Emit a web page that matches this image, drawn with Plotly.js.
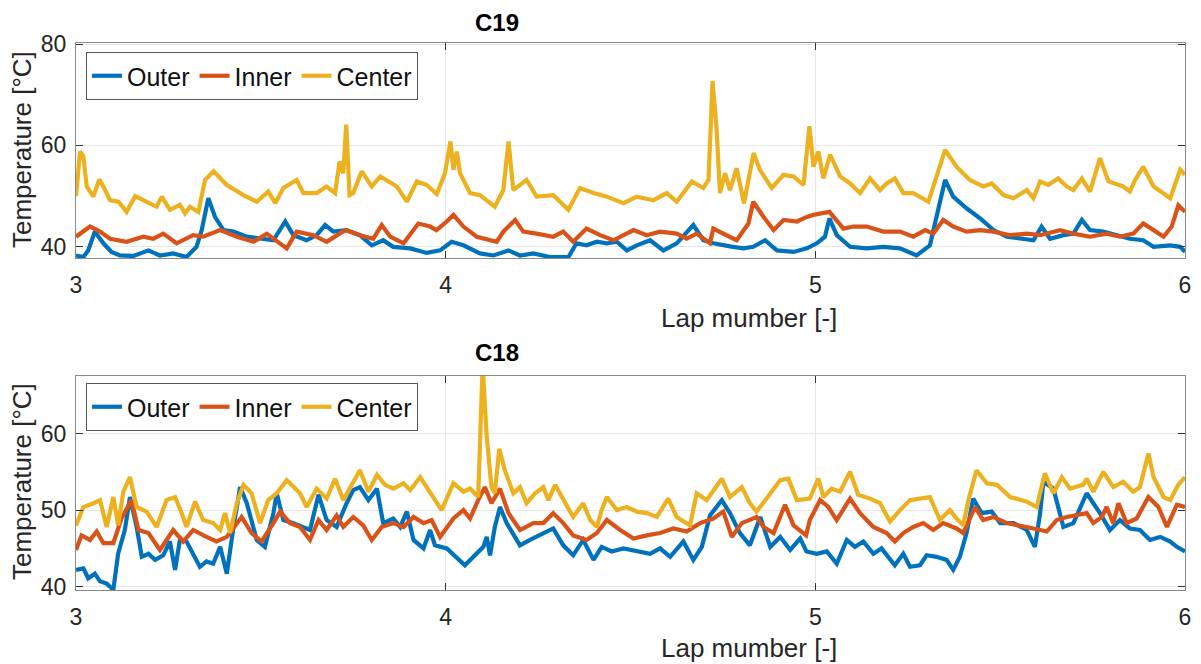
<!DOCTYPE html>
<html>
<head>
<meta charset="utf-8">
<script src="https://cdn.plot.ly/plotly-3.0.1.min.js"></script>
<style>html,body{margin:0;padding:0;background:#fff;}#chart{width:1201px;height:664px;}</style>
</head>
<body>
<div id="chart"></div>
<script>
// ---------- C19 (top) ----------
const c19OuterX = [3.000,3.020,3.033,3.051,3.074,3.096,3.119,3.155,3.196,3.227,3.263,3.299,3.326,3.340,3.358,3.376,3.399,3.426,3.462,3.498,3.534,3.566,3.588,3.624,3.651,3.674,3.696,3.732,3.768,3.800,3.831,3.858,3.904,3.949,3.985,4.016,4.048,4.093,4.129,4.170,4.201,4.237,4.282,4.332,4.354,4.381,4.409,4.436,4.463,4.490,4.517,4.553,4.589,4.625,4.670,4.697,4.724,4.769,4.805,4.832,4.864,4.896,4.941,4.977,5.004,5.026,5.038,5.058,5.094,5.139,5.184,5.229,5.274,5.310,5.328,5.351,5.373,5.409,5.446,5.482,5.518,5.554,5.590,5.612,5.635,5.671,5.698,5.721,5.743,5.779,5.815,5.851,5.887,5.915,5.960,5.987,6.000];
const c19OuterY = [38.3,38.0,39.3,43.0,40.7,39.0,38.3,38.2,39.3,38.3,38.7,38.0,40.0,43.3,49.6,45.9,43.3,43.0,42.0,41.6,41.3,45.0,42.3,41.3,42.3,44.3,43.0,43.3,42.3,40.3,41.3,40.0,39.7,38.8,39.3,41.0,40.3,38.7,38.3,39.3,38.3,38.7,38.0,38.0,40.7,40.3,41.0,40.7,41.0,39.3,40.3,41.3,39.3,40.7,44.3,41.3,40.7,40.1,39.7,40.0,41.3,39.3,39.0,39.7,40.7,42.0,45.6,42.3,40.0,39.7,40.0,39.7,38.3,40.3,45.9,53.2,49.9,47.6,45.6,43.3,42.0,41.6,41.3,44.0,41.6,42.3,42.6,45.3,43.3,43.0,42.3,41.6,41.3,40.0,40.3,40.0,39.0];

const c19InnerX = [3.000,3.038,3.065,3.092,3.137,3.182,3.209,3.236,3.272,3.317,3.344,3.390,3.435,3.480,3.516,3.570,3.597,3.642,3.678,3.728,3.768,3.804,3.827,3.850,3.886,3.926,3.958,3.975,4.003,4.021,4.048,4.084,4.138,4.156,4.188,4.210,4.246,4.291,4.318,4.345,4.381,4.418,4.454,4.508,4.544,4.580,4.625,4.652,4.679,4.715,4.724,4.751,4.787,4.819,4.832,4.860,4.887,4.914,4.950,4.977,4.994,5.038,5.076,5.103,5.139,5.184,5.229,5.265,5.297,5.319,5.346,5.373,5.409,5.446,5.482,5.527,5.572,5.608,5.662,5.698,5.743,5.788,5.824,5.860,5.887,5.915,5.942,5.964,5.982,6.000];
const c19InnerY = [42.0,44.0,43.0,41.6,41.0,42.0,41.6,42.6,40.7,42.3,42.0,43.3,42.0,41.0,42.6,39.7,43.0,42.3,41.0,43.3,42.3,41.6,44.3,42.0,40.7,44.6,44.0,43.3,45.0,46.3,44.0,42.0,41.0,43.0,45.3,43.0,42.6,42.0,43.0,41.0,43.6,42.3,41.3,43.3,42.3,43.0,42.6,41.6,42.6,40.7,43.6,42.6,41.3,44.6,48.9,45.9,43.3,45.3,45.0,45.9,46.3,46.9,43.6,44.0,44.0,43.0,43.0,42.0,43.3,42.6,45.3,44.0,43.0,43.3,43.0,42.3,42.6,42.3,43.3,42.6,42.0,42.6,42.0,42.6,44.6,43.3,42.0,44.0,48.2,46.9];

const c19CenterX = [3.000,3.011,3.020,3.029,3.047,3.063,3.074,3.092,3.115,3.137,3.160,3.191,3.218,3.232,3.254,3.281,3.295,3.308,3.331,3.349,3.372,3.408,3.453,3.489,3.520,3.539,3.561,3.597,3.615,3.651,3.678,3.701,3.713,3.723,3.731,3.740,3.750,3.773,3.787,3.800,3.823,3.845,3.868,3.895,3.922,3.949,3.976,3.998,4.013,4.021,4.030,4.039,4.052,4.066,4.093,4.133,4.156,4.170,4.183,4.219,4.246,4.291,4.332,4.363,4.400,4.436,4.481,4.517,4.562,4.598,4.625,4.666,4.697,4.711,4.722,4.733,4.742,4.756,4.769,4.787,4.807,4.833,4.850,4.882,4.914,4.941,4.968,4.984,4.995,5.008,5.022,5.040,5.067,5.094,5.121,5.148,5.175,5.193,5.215,5.238,5.265,5.306,5.328,5.351,5.382,5.418,5.454,5.477,5.509,5.536,5.572,5.590,5.608,5.630,5.657,5.680,5.698,5.721,5.743,5.770,5.793,5.833,5.851,5.865,5.887,5.915,5.960,5.987,6.000];
const c19CenterY = [50.0,58.8,57.8,51.9,49.9,53.3,51.9,49.2,48.9,46.9,50.0,48.9,47.9,49.9,47.3,48.3,46.6,47.9,46.9,53.2,54.9,52.2,50.2,48.9,50.9,48.6,51.6,53.2,50.6,50.6,51.9,50.6,56.8,54.5,64.1,50.2,50.6,54.9,53.5,51.9,53.9,52.9,51.9,48.9,52.9,52.2,50.4,54.5,60.8,55.2,58.8,54.5,52.5,50.6,50.2,47.9,51.2,60.8,51.2,53.2,49.9,50.2,47.3,51.6,50.6,49.9,48.6,49.9,49.2,50.6,48.9,52.9,51.6,53.2,72.7,63.1,50.6,54.5,51.2,55.5,48.6,58.5,55.2,51.6,54.2,53.9,52.2,63.8,55.8,58.8,53.5,58.2,53.9,52.5,50.6,53.5,51.2,52.5,53.5,50.6,50.6,48.9,53.9,59.1,55.8,53.2,51.9,52.5,50.2,49.6,51.2,49.6,52.9,52.2,53.5,51.9,51.2,53.5,50.9,57.5,52.9,51.9,50.9,53.2,55.8,51.9,49.6,55.2,54.2];

// ---------- C18 (bottom) ----------
const c18OuterX = [3.000,3.020,3.033,3.051,3.065,3.083,3.101,3.114,3.132,3.146,3.164,3.178,3.196,3.214,3.236,3.254,3.268,3.281,3.299,3.317,3.335,3.353,3.371,3.390,3.408,3.426,3.444,3.462,3.489,3.511,3.534,3.543,3.561,3.588,3.615,3.633,3.656,3.678,3.705,3.732,3.750,3.768,3.791,3.814,3.831,3.858,3.877,3.895,3.913,3.940,3.958,3.971,4.003,4.030,4.052,4.075,4.102,4.111,4.120,4.133,4.147,4.165,4.188,4.201,4.228,4.255,4.291,4.318,4.345,4.372,4.400,4.422,4.449,4.481,4.517,4.553,4.580,4.607,4.643,4.670,4.693,4.715,4.747,4.769,4.796,4.823,4.851,4.878,4.905,4.932,4.959,4.976,5.004,5.031,5.058,5.085,5.107,5.130,5.157,5.179,5.215,5.238,5.256,5.283,5.301,5.328,5.355,5.373,5.391,5.409,5.427,5.450,5.477,5.500,5.536,5.572,5.594,5.608,5.617,5.644,5.671,5.698,5.734,5.770,5.797,5.824,5.851,5.878,5.905,5.933,5.960,5.978,6.000];
const c18OuterY = [42.2,42.4,41.1,41.7,40.7,40.4,39.6,44.3,47.4,51.7,47.8,43.9,44.3,43.5,44.1,45.9,42.2,46.1,45.9,44.3,42.6,43.3,43.0,45.2,41.7,47.8,53.0,50.9,46.1,45.2,49.6,52.2,48.7,48.3,47.8,47.4,52.0,48.7,47.8,50.9,52.6,53.0,51.3,52.8,48.3,48.9,47.8,49.8,46.1,45.0,47.4,45.4,45.0,43.7,42.8,43.9,45.2,46.5,44.1,47.8,50.4,48.3,46.5,45.4,46.1,46.7,47.6,45.4,44.1,46.1,43.5,45.2,44.6,45.0,44.6,44.3,45.0,43.9,45.9,43.5,45.2,49.3,51.3,49.6,47.0,45.4,49.1,45.2,46.5,44.8,46.3,44.6,44.3,44.6,43.0,46.1,45.2,45.9,44.3,45.0,42.8,44.3,42.6,42.8,44.1,43.9,43.5,42.2,43.9,47.0,51.5,49.6,49.8,48.3,48.3,47.4,45.2,49.6,53.7,52.8,47.8,48.3,52.2,49.6,47.4,48.7,47.6,47.4,46.1,46.5,45.9,45.2,44.6];

const c18InnerX = [3.000,3.015,3.038,3.056,3.074,3.101,3.123,3.141,3.150,3.169,3.196,3.227,3.263,3.290,3.317,3.353,3.380,3.408,3.426,3.448,3.475,3.502,3.534,3.552,3.579,3.606,3.633,3.656,3.678,3.705,3.723,3.750,3.777,3.800,3.827,3.859,3.886,3.913,3.940,3.962,3.985,4.021,4.048,4.066,4.088,4.106,4.124,4.147,4.170,4.201,4.237,4.264,4.291,4.318,4.345,4.381,4.409,4.436,4.472,4.508,4.544,4.580,4.616,4.652,4.688,4.724,4.751,4.774,4.801,4.823,4.841,4.860,4.887,4.918,4.941,4.975,4.985,5.013,5.035,5.058,5.094,5.121,5.157,5.193,5.215,5.238,5.265,5.292,5.319,5.346,5.382,5.400,5.432,5.454,5.482,5.518,5.554,5.590,5.626,5.653,5.680,5.707,5.734,5.752,5.775,5.788,5.806,5.820,5.842,5.869,5.901,5.928,5.951,5.978,6.000];
const c18InnerY = [44.8,46.7,46.1,47.2,45.7,45.7,48.9,50.4,51.3,47.4,47.0,44.8,47.4,45.9,47.4,46.5,45.9,46.5,47.6,49.1,47.0,45.9,48.3,49.8,48.3,47.8,46.1,48.7,47.4,49.3,47.8,49.1,48.0,46.1,47.8,48.3,47.8,49.1,48.3,48.7,46.5,48.9,50.0,48.9,51.3,53.0,50.9,52.8,49.6,47.4,48.3,48.3,49.6,48.3,46.7,46.1,47.0,48.7,47.4,46.3,46.7,47.0,47.6,47.2,48.3,48.9,49.8,46.5,48.3,48.7,49.1,47.8,47.0,50.7,48.0,46.7,48.7,51.3,50.4,48.7,51.5,49.6,47.8,47.0,45.9,47.0,47.8,48.3,47.4,48.3,47.6,47.0,50.4,48.7,49.1,48.3,48.0,47.6,47.2,48.7,49.1,49.3,49.6,48.3,49.1,50.4,48.3,50.9,48.3,48.9,51.7,50.4,47.8,50.7,50.4];

const c18CenterX = [3.000,3.020,3.047,3.065,3.083,3.101,3.114,3.128,3.146,3.164,3.191,3.218,3.245,3.268,3.286,3.299,3.322,3.344,3.371,3.390,3.403,3.417,3.435,3.453,3.475,3.498,3.520,3.543,3.570,3.606,3.624,3.651,3.678,3.701,3.723,3.741,3.768,3.791,3.814,3.836,3.859,3.886,3.904,3.931,3.958,3.989,4.021,4.048,4.066,4.088,4.100,4.111,4.124,4.133,4.145,4.160,4.183,4.201,4.219,4.242,4.264,4.278,4.296,4.318,4.345,4.372,4.391,4.409,4.422,4.436,4.463,4.490,4.517,4.544,4.571,4.602,4.625,4.661,4.679,4.706,4.729,4.747,4.769,4.801,4.823,4.841,4.868,4.905,4.927,4.950,4.985,5.008,5.022,5.044,5.067,5.094,5.116,5.148,5.175,5.202,5.229,5.256,5.283,5.310,5.337,5.364,5.382,5.400,5.414,5.436,5.464,5.491,5.527,5.572,5.599,5.621,5.644,5.667,5.689,5.725,5.734,5.752,5.779,5.806,5.833,5.860,5.878,5.901,5.915,5.942,5.960,5.982,6.000];
const c18CenterY = [48.0,50.4,50.9,51.3,47.8,51.7,48.0,52.4,54.3,50.4,49.8,47.8,51.3,51.7,49.6,47.8,51.1,48.7,48.3,47.4,49.6,47.0,50.9,53.3,52.2,48.3,51.3,52.2,53.9,52.2,50.4,52.8,51.5,54.1,51.3,52.8,55.2,52.4,54.6,53.3,52.8,53.5,52.6,54.3,52.2,50.0,53.5,52.4,52.8,51.7,69.0,59.6,53.0,52.2,58.0,55.2,52.2,53.0,50.9,52.2,53.0,51.3,53.3,51.3,49.1,50.9,48.7,47.8,50.0,51.7,50.0,50.4,49.8,49.6,49.1,51.5,49.1,48.0,52.2,51.3,53.0,54.1,51.7,53.0,50.9,49.8,51.5,53.9,54.1,51.3,51.5,54.1,51.7,52.8,52.4,55.0,52.0,51.5,50.9,48.5,50.0,51.3,51.5,51.7,48.7,50.0,48.9,48.0,51.3,55.2,53.5,53.3,51.7,51.1,50.4,54.8,52.2,54.3,52.8,53.3,54.1,52.4,55.0,53.0,53.7,52.4,53.0,57.4,54.3,51.7,51.3,53.3,54.3];

const seriesNames = ["Outer", "Inner", "Center"];
const seriesColors = ["#0072BD", "#D95319", "#EDB120"];
const panelTitles = ["C19", "C18"];
const xTickVals = [3, 4, 5, 6];
const yTicksTop = [40, 60, 80];
const yTicksBottom = [40, 50, 60];
const xLabel = "Lap mumber [-]";
const yLabel = "Temperature [°C]";

const W = 1201, H = 664;
const px = v => v / W;
const py = v => 1 - v / H;
const FONT = "Liberation Sans, Arial, Helvetica, sans-serif";

function tr(x, y, i, xa, ya, lg) {
  return {x: x, y: y, type: "scatter", mode: "lines", name: seriesNames[i],
    line: {color: seriesColors[i], width: 4.2}, xaxis: xa, yaxis: ya, legend: lg};
}
const data = [
  tr(c19OuterX, c19OuterY, 0, "x", "y", "legend"),
  tr(c19InnerX, c19InnerY, 1, "x", "y", "legend"),
  tr(c19CenterX, c19CenterY, 2, "x", "y", "legend"),
  tr(c18OuterX, c18OuterY, 0, "x2", "y2", "legend2"),
  tr(c18InnerX, c18InnerY, 1, "x2", "y2", "legend2"),
  tr(c18CenterX, c18CenterY, 2, "x2", "y2", "legend2")
];

const axCommon = {
  showline: true, linecolor: "#8a8a8a", linewidth: 1, mirror: "ticks",
  ticks: "inside", ticklen: 7, tickcolor: "#333", tickwidth: 1,
  showgrid: true, gridcolor: "#e6e6e6", gridwidth: 1, zeroline: false,
  tickfont: {family: FONT, size: 23, color: "#262626"}
};
const xDom = [px(76), px(1185)];

const legCommon = {
  orientation: "h", xanchor: "left", yanchor: "top",
  bgcolor: "#ffffff", bordercolor: "#555", borderwidth: 1,
  font: {family: FONT, size: 25, color: "#111"},
  itemwidth: 30, tracegroupgap: 0, itemclick: false
};

const layout = {
  width: W, height: H,
  margin: {l: 0, r: 0, t: 0, b: 0},
  paper_bgcolor: "#ffffff", plot_bgcolor: "#ffffff",
  showlegend: true,
  xaxis: Object.assign({}, axCommon, {domain: xDom, range: [3, 6], tickvals: xTickVals, anchor: "y", ticklabelstandoff: 6}),
  yaxis: Object.assign({}, axCommon, {domain: [py(258), py(43)], range: [37.8, 80.2], tickvals: yTicksTop, anchor: "x", ticklabelstandoff: 4}),
  xaxis2: Object.assign({}, axCommon, {domain: xDom, range: [3, 6], tickvals: xTickVals, anchor: "y2", ticklabelstandoff: 6}),
  yaxis2: Object.assign({}, axCommon, {domain: [py(590), py(376)], range: [39.57, 67.5], tickvals: yTicksBottom, anchor: "x2", ticklabelstandoff: 4}),
  legend: Object.assign({}, legCommon, {x: px(86), y: py(52)}),
  legend2: Object.assign({}, legCommon, {x: px(86), y: py(383)}),
  annotations: [
    {text: "<b>" + panelTitles[0] + "</b>", x: px(497), y: py(23), xref: "paper", yref: "paper", showarrow: false, xanchor: "center", yanchor: "middle", font: {family: FONT, size: 24, color: "#000"}},
    {text: "<b>" + panelTitles[1] + "</b>", x: px(497), y: py(353), xref: "paper", yref: "paper", showarrow: false, xanchor: "center", yanchor: "middle", font: {family: FONT, size: 24, color: "#000"}},
    {text: xLabel, x: px(749), y: py(318), xref: "paper", yref: "paper", showarrow: false, xanchor: "center", yanchor: "middle", font: {family: FONT, size: 26, color: "#262626"}},
    {text: xLabel, x: px(749), y: py(648), xref: "paper", yref: "paper", showarrow: false, xanchor: "center", yanchor: "middle", font: {family: FONT, size: 26, color: "#262626"}},
    {text: yLabel, x: px(22), y: py(150), xref: "paper", yref: "paper", showarrow: false, textangle: -90, xanchor: "center", yanchor: "middle", font: {family: FONT, size: 26, color: "#262626"}},
    {text: yLabel, x: px(22), y: py(482), xref: "paper", yref: "paper", showarrow: false, textangle: -90, xanchor: "center", yanchor: "middle", font: {family: FONT, size: 26, color: "#262626"}}
  ]
};

Plotly.newPlot("chart", data, layout, {displayModeBar: false, staticPlot: true});
</script>
</body>
</html>
